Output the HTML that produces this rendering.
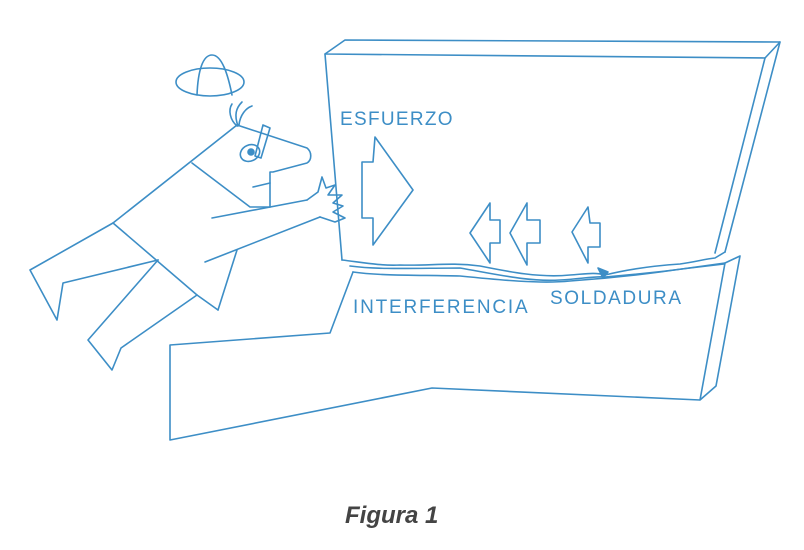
<!DOCTYPE html>
<html><head><meta charset="utf-8"><style>
html,body{margin:0;padding:0;background:#fff;width:804px;height:550px;overflow:hidden}
svg{display:block}
text{font-family:"Liberation Sans",sans-serif;fill:#3d8ec6}
</style></head><body>
<svg width="804" height="550" viewBox="0 0 804 550">
<g fill="none" stroke="#3d8ec6" stroke-width="1.6" stroke-linejoin="round" stroke-linecap="round">
<path d="M325,54 L345,40 L780,42 L765,58 Z"/>
<path d="M325,54 L342,260"/>
<path d="M765,58 L715,253"/>
<path d="M780,42 L725,252"/>
<path d="M342,260 C360,262 380,266 400,265 C430,266 450,262 480,266 C510,272 540,278 570,275 C585,274 595,272 605,275 C625,270 650,266 680,264 C695,262 705,259 715,258 L725,252"/>
<path d="M350,266 C380,270 420,268 460,268 C500,275 530,282 560,280 C580,279 595,276 605,277 C630,275 660,272 690,268 L724,264"/>
<path d="M598,268 L608,272 L603,278 Z" fill="#3d8ec6"/>
<path d="M353,272 L330,333 L170,345 L170,440 L432,388 L700,400 L725,263 L740,256 L716,386 L700,400"/>
<path d="M353,272 C380,276 420,275 460,276 C500,280 540,284 570,281 C600,279 630,276 660,272 L725,263"/>
<path d="M362,162 L373,162 L375,137 L413,190 L373,245 L373,218 L362,218 Z"/>
<path d="M470,233 L490,203 L490,220 L500,220 L500,243 L490,243 L490,263 Z"/>
<path d="M510,233 L527,203 L527,220 L540,220 L540,243 L527,243 L527,265 Z"/>
<path d="M572,232 L588,207 L590,223 L600,223 L600,247 L588,247 L588,263 Z"/>
<ellipse cx="210" cy="82" rx="34" ry="14"/>
<path d="M197,95 C198,70 203,55 212,55 C222,55 228,75 232,95"/>
<path d="M237,126 C230,120 228,110 232,104 M238,126 C234,115 236,108 242,102 M239,125 C240,115 246,108 252,106"/>
<path d="M237,125 L307,148 C312,152 312,160 307,163 L273,172 L270,172 L270,207"/>
<path d="M253,187 L270,183"/>
<ellipse cx="250" cy="153" rx="10" ry="8" transform="rotate(-25 250 153)"/>
<circle cx="251" cy="152" r="3" fill="#3d8ec6"/>
<path d="M263,125 L270,128 L261,158 L255,156 Z"/>
<path d="M237,125 L113,223"/>
<path d="M192,163 L250,207 L270,207"/>
<path d="M212,218 L307,200"/>
<path d="M205,262 L320,217"/>
<path d="M307,200 L318,192 L322,177 L326,188 L335,185 L328,195 L342,195 L333,203 L343,206 L333,212 L345,218 L335,222 L320,217"/>
<path d="M237,250 L218,310"/>
<path d="M113,223 L197,295 L218,310"/>
<path d="M113,223 L30,270 L57,320 L63,283 L158,260"/>
<path d="M158,260 L88,340 L112,370 L121,348 L197,295"/>
</g>
<text x="340" y="125" font-size="19" letter-spacing="1.3">ESFUERZO</text>
<text x="353" y="313" font-size="19" letter-spacing="1.8">INTERFERENCIA</text>
<text x="550" y="304" font-size="19" letter-spacing="1.6">SOLDADURA</text>
<text x="345" y="523" font-size="24" font-weight="bold" font-style="italic" style="fill:#444">Figura 1</text>
</svg>
</body></html>
